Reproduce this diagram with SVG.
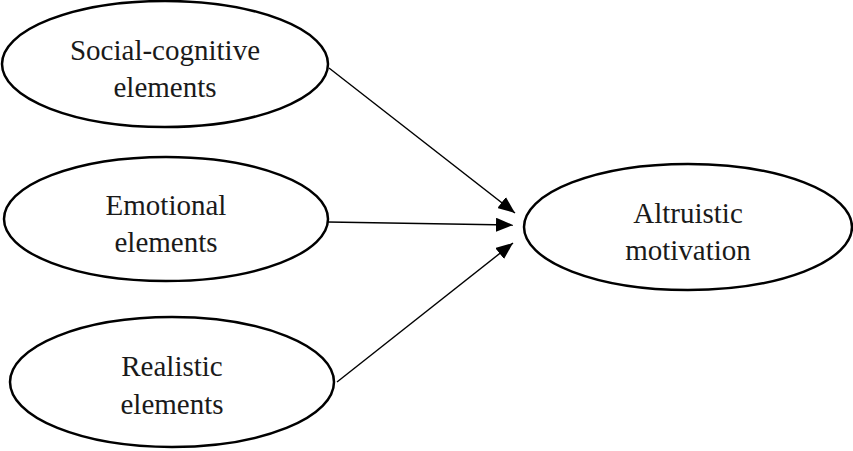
<svg xmlns="http://www.w3.org/2000/svg" width="853" height="451" viewBox="0 0 853 451">
<style>
.node ellipse{fill:#fff;stroke:#000;stroke-width:2.5}
.node text{font-family:"Liberation Serif","Times New Roman",serif;font-size:29px;fill:#1a1a1a;text-anchor:middle}
.edges line{stroke:#000;stroke-width:1.4}
</style>
<defs>
<marker id="ah" viewBox="0 0 17 14" refX="17" refY="7" markerWidth="17" markerHeight="14" markerUnits="userSpaceOnUse" orient="auto">
<path d="M0,0 L17,7 L0,14 Z" fill="#000"/>
</marker>
</defs>
<rect width="853" height="451" fill="#fff"/>
<g class="edges">
<line x1="329" y1="68" x2="515" y2="213" marker-end="url(#ah)"/>
<line x1="328" y1="222" x2="513" y2="225" marker-end="url(#ah)"/>
<line x1="337" y1="382" x2="513" y2="243" marker-end="url(#ah)"/>
</g>
<g id="social" class="node">
<ellipse cx="165" cy="64" rx="163" ry="63"/>
<text x="165" y="60">Social-cognitive</text>
<text x="165" y="97">elements</text>
</g>
<g id="emotional" class="node">
<ellipse cx="166" cy="219" rx="162" ry="62"/>
<text x="166" y="215">Emotional</text>
<text x="166" y="252">elements</text>
</g>
<g id="realistic" class="node">
<ellipse cx="172" cy="382" rx="162" ry="65"/>
<text x="172" y="376">Realistic</text>
<text x="172" y="414">elements</text>
</g>
<g id="altruistic" class="node">
<ellipse cx="688" cy="227" rx="164" ry="63"/>
<text x="688" y="223">Altruistic</text>
<text x="688" y="260">motivation</text>
</g>
</svg>
